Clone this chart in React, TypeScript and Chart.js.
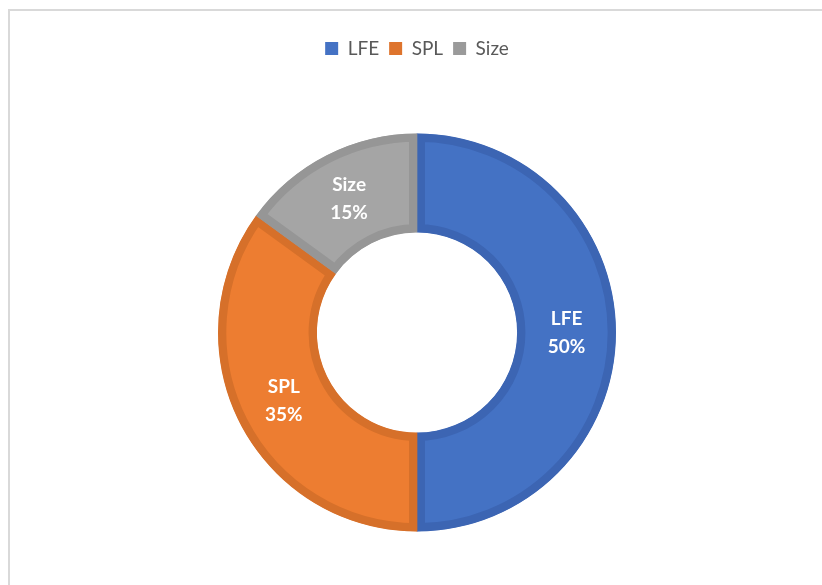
import React, { useEffect, useRef } from "react";
import { Chart, registerables } from "chart.js";

Chart.register(...registerables);

const categories = ["LFE", "SPL", "Size"];
const values = [50, 35, 15];
const percentLabels = ["50%", "35%", "15%"];
const fillColors = ["#4472C4", "#ED7D31", "#A5A5A5"];
const borderColors = ["#3C65B3", "#D6702A", "#969696"];
const legendColors = ["#4472C4", "#DE742D", "#9A9A9A"];

const FONT = "Lato, 'Noto Sans', sans-serif";

const sliceLabels = {
  id: "sliceLabels",
  afterDatasetsDraw(chart: any) {
    const ctx = chart.ctx;
    const meta = chart.getDatasetMeta(0);
    ctx.save();
    ctx.fillStyle = "#FFFFFF";
    ctx.font = `bold 19px ${FONT}`;
    ctx.textAlign = "center";
    ctx.textBaseline = "middle";
    meta.data.forEach((arc: any, i: number) => {
      const p = arc.tooltipPosition();
      ctx.fillText(categories[i], p.x, p.y - 14);
      ctx.fillText(percentLabels[i], p.x, p.y + 14);
    });
    ctx.restore();
  },
};

export default function App() {
  const ref = useRef<HTMLCanvasElement>(null);
  useEffect(() => {
    if (!ref.current) return;
    const chart = new Chart(ref.current, {
      type: "doughnut",
      data: {
        labels: categories,
        datasets: [
          {
            data: values,
            backgroundColor: fillColors,
            borderColor: borderColors,
            borderWidth: 8,
            borderAlign: "inner",
            hoverOffset: 0,
            radius: 199,
          } as any,
        ],
      },
      options: {
        responsive: false,
        animation: false,
        cutout: "50.3%",
        layout: { padding: { top: 29, left: 12, right: 0, bottom: 0 } },
        plugins: {
          legend: {
            position: "top",
            labels: {
              boxWidth: 13,
              boxHeight: 13,
              padding: 10,
              color: "#595959",
              font: { size: 19, family: FONT },
              generateLabels: () =>
                categories.map((c, i) => ({
                  text: c,
                  fillStyle: legendColors[i],
                  strokeStyle: legendColors[i],
                  lineWidth: 0,
                  fontColor: "#595959",
                  hidden: false,
                  index: i,
                })),
            },
          },
          tooltip: { enabled: false },
        },
      } as any,
      plugins: [sliceLabels],
    });
    return () => chart.destroy();
  }, []);

  return (
    <div
      style={{
        position: "fixed",
        left: 0,
        top: 0,
        width: 822,
        height: 585,
        overflow: "hidden",
        background: "#FFFFFF",
      }}
    >
      <div
        style={{
          position: "absolute",
          left: 8,
          top: 9,
          width: 900,
          height: 700,
          borderTop: "2px solid #D9D9D9",
          borderLeft: "2px solid #D9D9D9",
        }}
      />
      <canvas
        ref={ref}
        width={822}
        height={597}
        style={{ position: "absolute", left: 0, top: 0 }}
      />
    </div>
  );
}
